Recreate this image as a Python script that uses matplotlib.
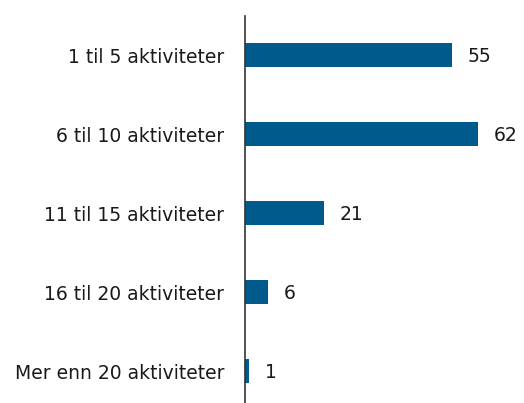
import matplotlib.pyplot as plt

categories = ['1 til 5 aktiviteter', '6 til 10 aktiviteter', '11 til 15 aktiviteter',
              '16 til 20 aktiviteter', 'Mer enn 20 aktiviteter']
values = [55, 62, 21, 6, 1]

plt.rcParams['font.family'] = ['DejaVu Sans']

fig = plt.figure(figsize=(5.24, 4.03), dpi=100)
ax = fig.add_axes([0.4676, 0.0, 0.5324, 0.960])

pos = list(range(len(categories)))
ax.barh(pos, values, height=0.3, color='#005a8c')
for p, v in zip(pos, values):
    ax.text(v + 4.2, p + 0.02, str(v), va='center', ha='left', fontsize=13.5, color='#1a1a1a')

ax.set_yticks(pos)
ax.set_yticklabels(categories, fontsize=13.5, color='#1a1a1a')
ax.tick_params(axis='y', length=0, pad=15)
ax.set_xticks([])
ax.set_xlim(0, 74.2)
ax.set_ylim(4.405, -0.494)
for s in ['top', 'right', 'bottom']:
    ax.spines[s].set_visible(False)
ax.spines['left'].set_color('#333333')
ax.spines['left'].set_linewidth(1.2)

fig.savefig('out.png', dpi=100)
